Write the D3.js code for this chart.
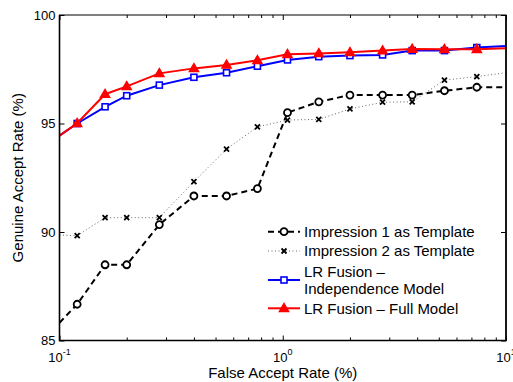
<!DOCTYPE html>
<html>
<head>
<meta charset="utf-8">
<script src="https://cdn.jsdelivr.net/npm/d3@7"></script>
<style>
  body { margin: 0; background: #fff; }
  text { font-family: "Liberation Sans", Arial, Helvetica, sans-serif; }
</style>
</head>
<body>
<div id="chart"></div>
<script>
// False accept rates (%); first and last entries are where the curves meet the axes
const far = [0.1, 0.12, 0.16, 0.2, 0.28, 0.4, 0.56, 0.77, 1.05, 1.45, 2.0, 2.8, 3.8, 5.3, 7.4, 10];

// Genuine accept rates (%)
const impression1 = [85.82, 86.67, 88.49, 88.49, 90.34, 91.66, 91.66, 92.0, 95.5, 96.0, 96.31, 96.31, 96.31, 96.51, 96.67, 96.67];
const impression2 = [89.86, 89.83, 90.66, 90.66, 90.66, 92.32, 93.82, 94.84, 95.16, 95.19, 95.67, 95.98, 96.0, 97.0, 97.16, 97.34];
const lrIndependence = [94.44, 95.0, 95.77, 96.28, 96.77, 97.13, 97.34, 97.64, 97.93, 98.08, 98.13, 98.16, 98.36, 98.36, 98.5, 98.57];
const lrFull = [94.44, 95.01, 96.35, 96.71, 97.31, 97.54, 97.7, 97.91, 98.19, 98.23, 98.28, 98.36, 98.43, 98.42, 98.42, 98.47];

const yTicks = [85, 90, 95, 100];
const xMajor = [0.1, 1, 10];
const xExponents = ["-1", "0", "1"];

const seriesNames = ["Impression 1 as Template", "Impression 2 as Template", ["LR Fusion \u2013", "Independence Model"], "LR Fusion \u2013 Full Model"];

const width = 513, height = 382;
const margin = { top: 15, right: 7, bottom: 41.5, left: 59.5 };
const iw = width - margin.left - margin.right;
const ih = height - margin.top - margin.bottom;

const svg = d3.select("#chart").append("svg")
    .attr("width", width)
    .attr("height", height);

const x = d3.scaleLog().domain([0.1, 10]).range([0, iw]);
const y = d3.scaleLinear().domain([85, 100]).range([ih, 0]);

const g = svg.append("g").attr("transform", `translate(${margin.left},${margin.top})`);

g.append("clipPath").attr("id", "clip")
    .append("rect").attr("x", -1).attr("y", -1).attr("width", iw + 2).attr("height", ih + 2);

// minor log ticks
let minor = [];
[0.1, 1].forEach(d => { for (let k = 2; k <= 9; k++) minor.push(d * k); });

function styleAxis(sel) {
    sel.select(".domain").remove();
    sel.selectAll("line").attr("stroke", "#000").attr("stroke-width", 1);
}

g.append("g").attr("transform", `translate(0,${ih})`)
    .call(d3.axisBottom(x).tickValues(minor).tickSize(-3).tickFormat("")).call(styleAxis);
g.append("g")
    .call(d3.axisTop(x).tickValues(minor).tickSize(-3).tickFormat("")).call(styleAxis);
g.append("g").attr("transform", `translate(0,${ih})`)
    .call(d3.axisBottom(x).tickValues(xMajor).tickSize(-5).tickFormat("")).call(styleAxis);
g.append("g")
    .call(d3.axisTop(x).tickValues(xMajor).tickSize(-5).tickFormat("")).call(styleAxis);
g.append("g")
    .call(d3.axisLeft(y).tickValues(yTicks).tickSize(-5).tickFormat("")).call(styleAxis);
g.append("g").attr("transform", `translate(${iw},0)`)
    .call(d3.axisRight(y).tickValues(yTicks).tickSize(-5).tickFormat("")).call(styleAxis);

// y tick labels
g.selectAll(".ylab").data(yTicks).join("text")
    .attr("class", "ylab")
    .attr("x", -4)
    .attr("y", d => y(d))
    .attr("dy", "0.36em")
    .attr("text-anchor", "end")
    .attr("font-size", 13)
    .text(d => d);

// x tick labels: 10 with superscript exponent
const xl = g.selectAll(".xlab").data(xMajor).join("text")
    .attr("class", "xlab")
    .attr("x", d => x(d))
    .attr("y", ih + 21)
    .attr("text-anchor", "middle")
    .attr("font-size", 13);
xl.append("tspan").text("10");
xl.append("tspan").attr("font-size", 9).attr("dy", -7).text((d, i) => xExponents[i]);

// axis titles
svg.append("text")
    .attr("x", margin.left + iw / 2)
    .attr("y", 378)
    .attr("text-anchor", "middle")
    .attr("font-size", 15)
    .text("False Accept Rate (%)");

svg.append("text")
    .attr("transform", `translate(22.5,${margin.top + ih / 2}) rotate(-90)`)
    .attr("text-anchor", "middle")
    .attr("font-size", 15)
    .text("Genuine Accept Rate (%)");

// series
const series = [
    { values: impression1, color: "#000", width: 2, dash: "6,4", marker: "circle" },
    { values: impression2, color: "#666", width: 1, dash: "1,2.5", marker: "cross" },
    { values: lrIndependence, color: "#0000ff", width: 2, dash: null, marker: "square" },
    { values: lrFull, color: "#ff0000", width: 2, dash: null, marker: "triangle" }
];

const plot = g.append("g").attr("clip-path", "url(#clip)");
const line = d3.line().x(d => x(d[0])).y(d => y(d[1]));

function drawMarker(sel, s) {
    if (s.marker === "circle") {
        sel.append("circle").attr("r", 3.5)
            .attr("fill", "#fff").attr("stroke", "#000").attr("stroke-width", 1.8);
    } else if (s.marker === "cross") {
        sel.append("path").attr("d", "M-2.5,-2.5L2.5,2.5M-2.5,2.5L2.5,-2.5")
            .attr("stroke", "#000").attr("stroke-width", 1.8).attr("fill", "none");
    } else if (s.marker === "square") {
        sel.append("rect").attr("x", -3).attr("y", -3).attr("width", 6).attr("height", 6)
            .attr("fill", "#fff").attr("stroke", "#0000ff").attr("stroke-width", 1.6);
    } else if (s.marker === "triangle") {
        sel.append("path").attr("d", "M0,-5L4.8,3.3L-4.8,3.3Z")
            .attr("fill", "#ff0000").attr("stroke", "#ff0000").attr("stroke-width", 1.2);
    }
}

series.forEach(s => {
    const pts = far.map((f, i) => [f, s.values[i]]);
    plot.append("path")
        .datum(pts)
        .attr("d", line)
        .attr("fill", "none")
        .attr("stroke", s.color)
        .attr("stroke-width", s.width)
        .attr("stroke-dasharray", s.dash);
    pts.slice(1, -1).forEach(p => {
        const m = plot.append("g").attr("transform", `translate(${x(p[0])},${y(p[1])})`);
        drawMarker(m, s);
    });
});

// frame: left and bottom axes drawn heavier like the reference
g.append("rect").attr("width", iw).attr("height", ih)
    .attr("fill", "none").attr("stroke", "#000").attr("stroke-width", 1);
g.append("path").attr("d", `M0,0V${ih}H${iw}V0`)
    .attr("fill", "none").attr("stroke", "#000").attr("stroke-width", 1.6);

// legend
const legend = svg.append("g").attr("transform", "translate(268,0)");
const legendY = [231.7, 251, 280, 308.3];
series.forEach((s, i) => {
    const row = legend.append("g").attr("transform", `translate(0,${legendY[i]})`);
    row.append("line").attr("x1", 0).attr("x2", 32)
        .attr("stroke", s.color).attr("stroke-width", s.width)
        .attr("stroke-dasharray", s.dash);
    drawMarker(row.append("g").attr("transform", "translate(16,0)"), s);
    const name = seriesNames[i];
    const lines = Array.isArray(name) ? name : [name];
    const t = row.append("text").attr("x", 36).attr("font-size", 15);
    lines.forEach((ln, j) => {
        t.append("tspan").attr("x", 36)
            .attr("y", (j - (lines.length - 1) / 2) * 17.7)
            .attr("dy", "0.36em")
            .text(ln);
    });
});
</script>
</body>
</html>
